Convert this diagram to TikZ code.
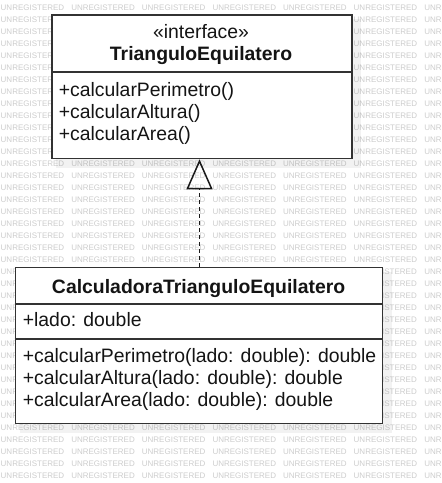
\documentclass[tikz,border=0pt]{standalone}
\usepackage{fontspec}
\setmainfont{Liberation Sans}
\usetikzlibrary{arrows.meta}
\definecolor{wm}{RGB}{205,205,205}
\definecolor{bord}{RGB}{50,50,50}
\begin{document}
\begin{tikzpicture}[x=1pt,y=-1pt,
  box/.style={draw=bord, line width=1.6pt, fill=white, inner sep=0pt, anchor=north west},
  divider/.style={draw=bord, line width=1.6pt},
  shadowbox/.style={fill=black, opacity=0.05},
  txt/.style={inner sep=0pt, anchor=base west, font=\fontsize{19.4}{21}\selectfont, text=black!92},
  ttl/.style={inner sep=0pt, anchor=base, font=\fontsize{19.4}{21}\selectfont\bfseries, text=black!92},
  stereo/.style={inner sep=0pt, anchor=base, font=\fontsize{19.4}{21}\selectfont, text=black!92},
  wmtext/.style={inner sep=0pt, anchor=west, font=\fontsize{8}{8}\selectfont, text=wm},
  realize/.style={dashed, dash pattern=on 4pt off 3pt, line width=1pt, draw=black!90,
    -{Triangle[open, length=30pt, width=26pt, line width=1.5pt]}}]
\useasboundingbox (0,0) rectangle (442,483);
\fill[white] (0,0) rectangle (442,483);
% watermark (only the visible parts)
\foreach \r in {0,13,14,15,16,17,18,19,20,21,35,36,37,38,39} {
  \foreach \c in {0,...,5}
    \node[wmtext] (w\r-\c) at (0.5+70.6*\c, 8+12*\r) {UNREGISTERED};
  \node[wmtext] (w\r-6) at (424.1, 8+12*\r) {UNR};
}
\foreach \r in {1,...,12} {
  \node[wmtext] (w\r-0) at (0.5, 8+12*\r) {UNREGISTER};
  \node[wmtext] (w\r-5) at (353.5, 8+12*\r) {UNREGISTERED};
  \node[wmtext] (w\r-6) at (424.1, 8+12*\r) {UNR};
}
\foreach \r in {22,...,34} {
  \node[wmtext] (w\r-0) at (0.5, 8+12*\r) {UNR};
  \node[wmtext, anchor=east] (w\r-5) at (417, 8+12*\r) {GISTERED};
  \node[wmtext] (w\r-6) at (424.1, 8+12*\r) {UNR};
}
% shadows
\fill[shadowbox] (56,19) rectangle (361,168);
\fill[shadowbox] (20,272) rectangle (392,433);
% interface box
\node[box, minimum width=300pt, minimum height=143.4pt] (iface) at (51,14.3) {};
\draw[divider] (51,71.7) coordinate (d1a) -- (351,71.7) coordinate (d1b);
\node[stereo] (st) at (201,38.3) {«interface»};
\node[ttl] (t1) at (201,60) {TrianguloEquilatero};
\node[txt] (m1) at (58.6,96) {+calcularPerimetro()};
\node[txt] (m2) at (58.6,118) {+calcularAltura()};
\node[txt] (m3) at (58.6,140) {+calcularArea()};
% class box
\node[box, minimum width=367pt, minimum height=156pt] (calc) at (14.7,266.7) {};
\draw[divider] (14.7,304) coordinate (d2a) -- (381.7,304) coordinate (d2b);
\draw[divider] (14.7,339) coordinate (d3a) -- (381.7,339) coordinate (d3b);
\node[ttl] (t2) at (198.6,293.3) {CalculadoraTrianguloEquilatero};
\node[txt] (a1) at (22.6,326.7) {+lado: double};
\node[txt] (c1) at (22.6,362) {+calcularPerimetro(lado: double): double};
\node[txt] (c2) at (22.6,384) {+calcularAltura(lado: double): double};
\node[txt] (c3) at (22.6,406) {+calcularArea(lado: double): double};
% realization
\coordinate (ax) at (199.5,0);
\draw[realize] (calc.north -| ax) -- (iface.south -| ax);
\end{tikzpicture}
\end{document}
